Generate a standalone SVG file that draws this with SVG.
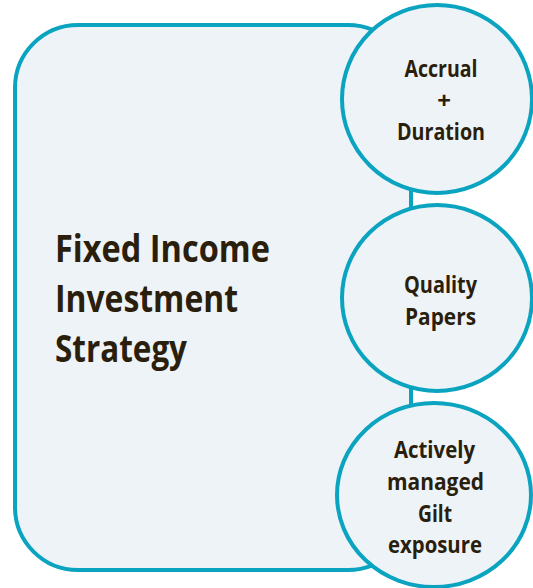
<svg xmlns="http://www.w3.org/2000/svg" width="533" height="588" viewBox="0 0 533 588">
<style>
.shape{fill:#eef3f7;stroke:#0aa4c0;stroke-width:4}
.t{font-family:"Open Sans","Noto Sans","DejaVu Sans",sans-serif;font-weight:bold;fill:#2a1e0c}
.main{font-size:38px}
.c{font-size:24px;text-anchor:middle}
</style>
<rect width="533" height="588" fill="#ffffff"/>
<g id="strategy">
<rect class="shape" x="15" y="25" width="396" height="545" rx="63" ry="63"/>
<text class="t main" x="55" y="262" textLength="215" lengthAdjust="spacingAndGlyphs">Fixed Income</text>
<text class="t main" x="55" y="312" textLength="183" lengthAdjust="spacingAndGlyphs">Investment</text>
<text class="t main" x="55" y="362" textLength="132" lengthAdjust="spacingAndGlyphs">Strategy</text>
</g>
<g id="accrual">
<ellipse class="shape" cx="437" cy="99" rx="95" ry="94"/>
<text class="t c" x="441" y="77" textLength="73" lengthAdjust="spacingAndGlyphs">Accrual</text>
<text class="t c" x="444" y="109">+</text>
<text class="t c" x="441" y="140" textLength="88" lengthAdjust="spacingAndGlyphs">Duration</text>
</g>
<g id="quality">
<ellipse class="shape" cx="437" cy="298" rx="95" ry="93"/>
<text class="t c" x="440.5" y="293" textLength="73" lengthAdjust="spacingAndGlyphs">Quality</text>
<text class="t c" x="440.5" y="325" textLength="71" lengthAdjust="spacingAndGlyphs">Papers</text>
</g>
<g id="gilt">
<ellipse class="shape" cx="434" cy="495" rx="97" ry="92"/>
<text class="t c" x="434.5" y="458" textLength="81" lengthAdjust="spacingAndGlyphs">Actively</text>
<text class="t c" x="435.5" y="490" textLength="97" lengthAdjust="spacingAndGlyphs">managed</text>
<text class="t c" x="435" y="522" textLength="34" lengthAdjust="spacingAndGlyphs">Gilt</text>
<text class="t c" x="435" y="553" textLength="94" lengthAdjust="spacingAndGlyphs">exposure</text>
</g>
<g id="connectors"></g>
</svg>
